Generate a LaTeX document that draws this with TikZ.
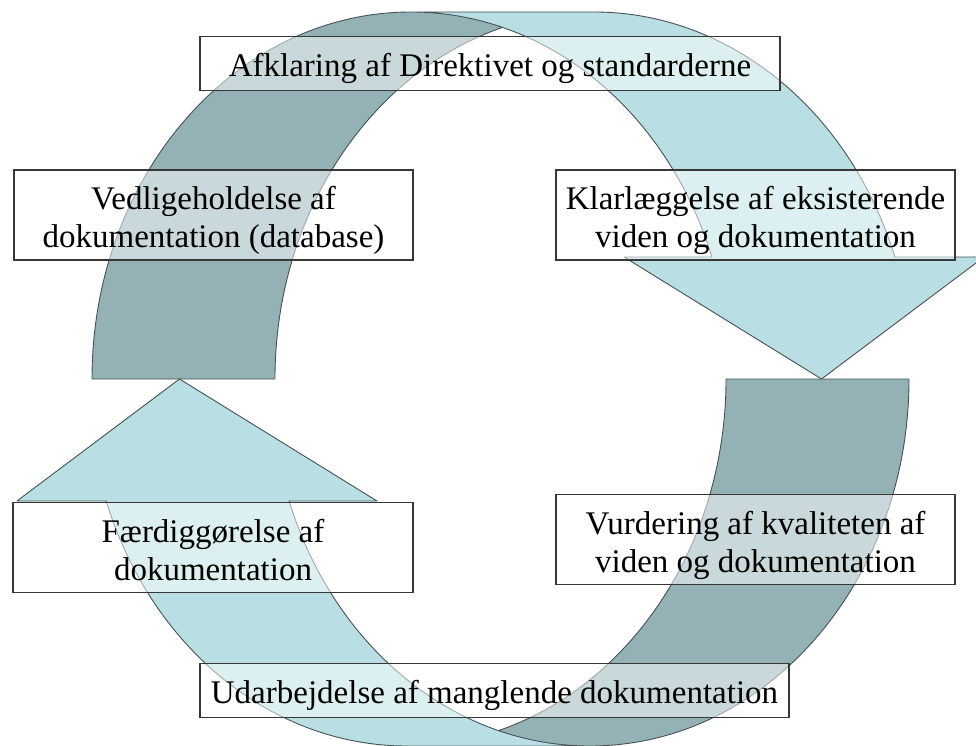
\documentclass[tikz,border=0pt]{standalone}
\usepackage{fontspec}
\setmainfont{Liberation Serif}
\definecolor{bandlight}{RGB}{185,223,228}
\definecolor{banddark}{RGB}{148,178,182}
\definecolor{bandline}{RGB}{70,82,84}
\definecolor{boxline}{RGB}{55,55,55}
\newcommand{\boxtxt}[2]{\raisebox{0pt}[40pt][#1]{\begin{tabular}[t]{@{}c@{}}#2\end{tabular}}}
\begin{document}
\begin{tikzpicture}[x=1pt,y=1pt,
  ell/.style={x radius=319pt, y radius=367pt},
  lightpart/.style={fill=bandlight},
  darkpart/.style={fill=banddark},
  bandedge/.style={draw=bandline, line width=0.9pt, line join=round},
  stepbox/.style={draw=boxline, line width=1.1pt, fill=white, fill opacity=0.5,
    text opacity=1, draw opacity=1, inner sep=0pt, outer sep=0pt, align=center,
    font=\fontsize{33}{37.5}\selectfont}
]
\useasboundingbox (0,0) rectangle (976,745);

% ---- upper arrow ----
\fill[lightpart] (821.5,366) -- (624,488) -- (711.86,488)
  arc[start angle=19.416, end angle=90, ell] -- (594,733)
  arc[start angle=90, end angle=19.416, ell] -- (984,488) -- cycle;
\fill[darkpart] (92,366) arc[start angle=180, end angle=73.333, ell]
  arc[start angle=106.667, end angle=180, ell] -- cycle;
\draw[bandedge] (502.5,717.58) arc[start angle=106.667, end angle=180, ell]
  -- (92,366) arc[start angle=180, end angle=90, ell] -- (594,733)
  arc[start angle=90, end angle=19.416, ell] -- (984,488) -- (821.5,366)
  -- (624,488) -- (711.86,488) arc[start angle=19.416, end angle=90, ell];

% ---- lower arrow ----
\fill[lightpart] (179.5,366) -- (377,244) -- (289.14,244)
  arc[start angle=199.416, end angle=270, ell] -- (407,-1)
  arc[start angle=270, end angle=199.416, ell] -- (17,244) -- cycle;
\fill[darkpart] (909,366) arc[start angle=0, end angle=-106.667, ell]
  arc[start angle=286.667, end angle=360, ell] -- cycle;
\draw[bandedge] (498.5,14.42) arc[start angle=286.667, end angle=360, ell]
  -- (909,366) arc[start angle=0, end angle=-90, ell] -- (407,-1)
  arc[start angle=270, end angle=199.416, ell] -- (17,244) -- (179.5,366)
  -- (377,244) -- (289.14,244) arc[start angle=199.416, end angle=270, ell];

% ---- text boxes ----
\node[stepbox, minimum width=580pt, minimum height=51pt] (afklaring) at (490,681.5)
  {\boxtxt{13.6pt}{Afklaring af Direktivet og standarderne}};
\node[stepbox, minimum width=399pt, minimum height=90pt] (vedlige) at (213.5,530)
  {\boxtxt{50pt}{Vedligeholdelse af\\dokumentation (database)}};
\node[stepbox, minimum width=399pt, minimum height=90pt] (klarl) at (755.5,530)
  {\boxtxt{50pt}{Klarlæggelse af eksisterende\\viden og dokumentation}};
\node[stepbox, minimum width=399pt, minimum height=89pt] (vurd) at (755.5,205.5)
  {\boxtxt{50pt}{Vurdering af kvaliteten af\\viden og dokumentation}};
\node[stepbox, minimum width=400pt, minimum height=89pt] (faerdig) at (213,197.5)
  {\boxtxt{50pt}{Færdiggørelse af\\dokumentation}};
\node[stepbox, minimum width=589pt, minimum height=51pt] (udarb) at (494.5,54.5)
  {\boxtxt{13.6pt}{Udarbejdelse af manglende dokumentation}};
\end{tikzpicture}
\end{document}
